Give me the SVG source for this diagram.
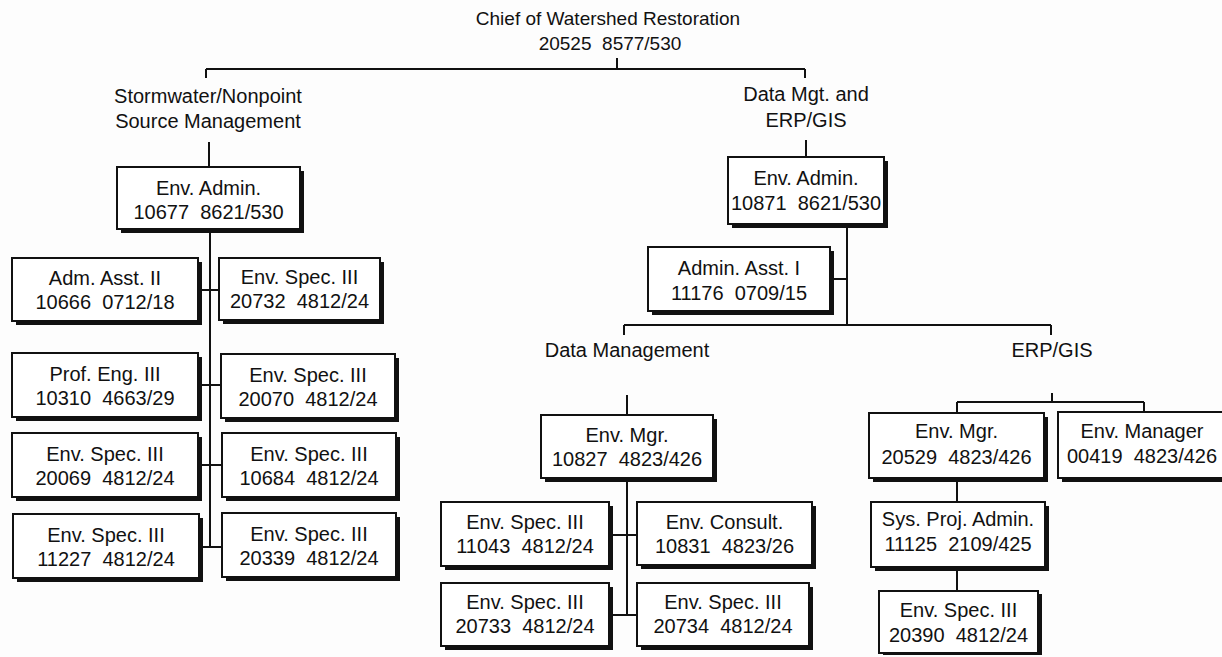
<svg xmlns="http://www.w3.org/2000/svg" width="1222" height="657" viewBox="0 0 1222 657">
  <style>
    .bg { fill: #fdfdfd; }
    .shadow { fill: #111; }
    .box { fill: #fff; stroke: #111; stroke-width: 2; }
    .t { font-family: "Liberation Sans", Arial, sans-serif; font-size: 20px; fill: #111; text-anchor: middle; white-space: pre; }
    .h { font-family: "Liberation Sans", Arial, sans-serif; font-size: 20px; fill: #111; text-anchor: middle; white-space: pre; }
    .ln { stroke: #111; stroke-width: 2; fill: none; }
  </style>
  <defs>
    <!-- box with drop shadow on the lower right -->
  </defs>
  <rect class="bg" x="0" y="0" width="1222" height="657"/>

  <!-- connectors -->
  <g id="connectors" class="ln">
    <!-- chief to divisions -->
    <path d="M617 58 V69 M206 69 H805 M206 69 V78 M805 69 V78"/>
    <!-- stormwater -->
    <path d="M209 142 V167"/>
    <path d="M210 229 V547"/>
    <path d="M200 290 H220 M200 385 H221 M200 465 H222 M200 547 H222"/>
    <!-- data mgt / erp-gis -->
    <path d="M806 140 V157"/>
    <path d="M847 225 V325 M834 279 H847"/>
    <path d="M624 325 H1051 M624 325 V335 M1051 325 V335"/>
    <!-- data management -->
    <path d="M627 395 V415"/>
    <path d="M627 478 V615 M613 535 H637 M613 615 H637"/>
    <!-- erp/gis -->
    <path d="M1052 393 V402 M957 402 H1144 M957 402 V413 M1144 402 V412"/>
    <path d="M957 478 V502 M957 567 V591"/>
  </g>

  <!-- headings -->
  <g id="chief">
    <text class="h" x="608" y="25" style="font-size:19px">Chief of Watershed Restoration</text>
    <text class="h" x="610" y="50" style="font-size:19px">20525  8577/530</text>
  </g>
  <g id="stormwater">
    <text class="h" x="208" y="103">Stormwater/Nonpoint</text>
    <text class="h" x="208" y="128">Source Management</text>
  </g>
  <g id="datamgt-erp">
    <text class="h" x="806" y="101">Data Mgt. and</text>
    <text class="h" x="806" y="127">ERP/GIS</text>
  </g>
  <g id="data-management">
    <text class="h" x="627" y="357">Data Management</text>
  </g>
  <g id="erp-gis">
    <text class="h" x="1052" y="357">ERP/GIS</text>
  </g>

  <!-- Stormwater/Nonpoint Source Management -->
  <g id="n10677">
    <rect class="shadow" x="121" y="171" width="183" height="62"/>
    <rect class="box" x="117" y="167" width="183" height="62"/>
    <text class="t" x="208.5" y="195">Env. Admin.</text>
    <text class="t" x="208.5" y="219">10677  8621/530</text>
  </g>
  <g id="n10666">
    <rect class="shadow" x="16" y="262" width="186" height="63"/>
    <rect class="box" x="12" y="258" width="186" height="63"/>
    <text class="t" x="105" y="285">Adm. Asst. II</text>
    <text class="t" x="105" y="309">10666  0712/18</text>
  </g>
  <g id="n20732">
    <rect class="shadow" x="223" y="262" width="161" height="62"/>
    <rect class="box" x="219" y="258" width="161" height="62"/>
    <text class="t" x="299.5" y="284">Env. Spec. III</text>
    <text class="t" x="299.5" y="308">20732  4812/24</text>
  </g>
  <g id="n10310">
    <rect class="shadow" x="16" y="357" width="186" height="64"/>
    <rect class="box" x="12" y="353" width="186" height="64"/>
    <text class="t" x="105" y="381">Prof. Eng. III</text>
    <text class="t" x="105" y="405">10310  4663/29</text>
  </g>
  <g id="n20070">
    <rect class="shadow" x="225" y="358" width="174" height="64"/>
    <rect class="box" x="221" y="354" width="174" height="64"/>
    <text class="t" x="308" y="382">Env. Spec. III</text>
    <text class="t" x="308" y="406">20070  4812/24</text>
  </g>
  <g id="n20069">
    <rect class="shadow" x="16" y="437" width="186" height="64"/>
    <rect class="box" x="12" y="433" width="186" height="64"/>
    <text class="t" x="105" y="461">Env. Spec. III</text>
    <text class="t" x="105" y="485">20069  4812/24</text>
  </g>
  <g id="n10684">
    <rect class="shadow" x="226" y="437" width="174" height="64"/>
    <rect class="box" x="222" y="433" width="174" height="64"/>
    <text class="t" x="309" y="461">Env. Spec. III</text>
    <text class="t" x="309" y="485">10684  4812/24</text>
  </g>
  <g id="n11227">
    <rect class="shadow" x="17" y="518" width="186" height="64"/>
    <rect class="box" x="13" y="514" width="186" height="64"/>
    <text class="t" x="106" y="542">Env. Spec. III</text>
    <text class="t" x="106" y="566">11227  4812/24</text>
  </g>
  <g id="n20339">
    <rect class="shadow" x="226" y="517" width="174" height="64"/>
    <rect class="box" x="222" y="513" width="174" height="64"/>
    <text class="t" x="309" y="541">Env. Spec. III</text>
    <text class="t" x="309" y="565">20339  4812/24</text>
  </g>

  <!-- Data Mgt. and ERP/GIS -->
  <g id="n10871">
    <rect class="shadow" x="732" y="161" width="156" height="67"/>
    <rect class="box" x="728" y="157" width="156" height="67"/>
    <text class="t" x="806" y="185">Env. Admin.</text>
    <text class="t" x="806" y="210">10871  8621/530</text>
  </g>
  <g id="n11176">
    <rect class="shadow" x="652" y="251" width="182" height="64"/>
    <rect class="box" x="648" y="247" width="182" height="64"/>
    <text class="t" x="739" y="275">Admin. Asst. I</text>
    <text class="t" x="739" y="300">11176  0709/15</text>
  </g>

  <!-- Data Management -->
  <g id="n10827">
    <rect class="shadow" x="545" y="419" width="172" height="63"/>
    <rect class="box" x="541" y="415" width="172" height="63"/>
    <text class="t" x="627" y="442">Env. Mgr.</text>
    <text class="t" x="627" y="466">10827  4823/426</text>
  </g>
  <g id="n11043">
    <rect class="shadow" x="445" y="506" width="168" height="64"/>
    <rect class="box" x="441" y="502" width="168" height="64"/>
    <text class="t" x="525" y="529">Env. Spec. III</text>
    <text class="t" x="525" y="553">11043  4812/24</text>
  </g>
  <g id="n10831">
    <rect class="shadow" x="641" y="506" width="175" height="63"/>
    <rect class="box" x="637" y="502" width="175" height="63"/>
    <text class="t" x="724.5" y="529">Env. Consult.</text>
    <text class="t" x="724.5" y="553">10831  4823/26</text>
  </g>
  <g id="n20733">
    <rect class="shadow" x="445" y="587" width="168" height="63"/>
    <rect class="box" x="441" y="583" width="168" height="63"/>
    <text class="t" x="525" y="609">Env. Spec. III</text>
    <text class="t" x="525" y="633">20733  4812/24</text>
  </g>
  <g id="n20734">
    <rect class="shadow" x="641" y="587" width="172" height="63"/>
    <rect class="box" x="637" y="583" width="172" height="63"/>
    <text class="t" x="723" y="609">Env. Spec. III</text>
    <text class="t" x="723" y="633">20734  4812/24</text>
  </g>

  <!-- ERP/GIS -->
  <g id="n20529">
    <rect class="shadow" x="873" y="417" width="175" height="65"/>
    <rect class="box" x="869" y="413" width="175" height="65"/>
    <text class="t" x="956.5" y="438">Env. Mgr.</text>
    <text class="t" x="956.5" y="464">20529  4823/426</text>
  </g>
  <g id="n00419">
    <rect class="shadow" x="1062" y="416" width="170" height="66"/>
    <rect class="box" x="1058" y="412" width="170" height="66"/>
    <text class="t" x="1142" y="438">Env. Manager</text>
    <text class="t" x="1142" y="463">00419  4823/426</text>
  </g>
  <g id="n11125">
    <rect class="shadow" x="875" y="506" width="174" height="65"/>
    <rect class="box" x="871" y="502" width="174" height="65"/>
    <text class="t" x="958" y="526">Sys. Proj. Admin.</text>
    <text class="t" x="958" y="551">11125  2109/425</text>
  </g>
  <g id="n20390">
    <rect class="shadow" x="883" y="594" width="159" height="61"/>
    <rect class="box" x="879" y="591" width="159" height="62"/>
    <text class="t" x="958.5" y="617">Env. Spec. III</text>
    <text class="t" x="958.5" y="642">20390  4812/24</text>
  </g>
</svg>
